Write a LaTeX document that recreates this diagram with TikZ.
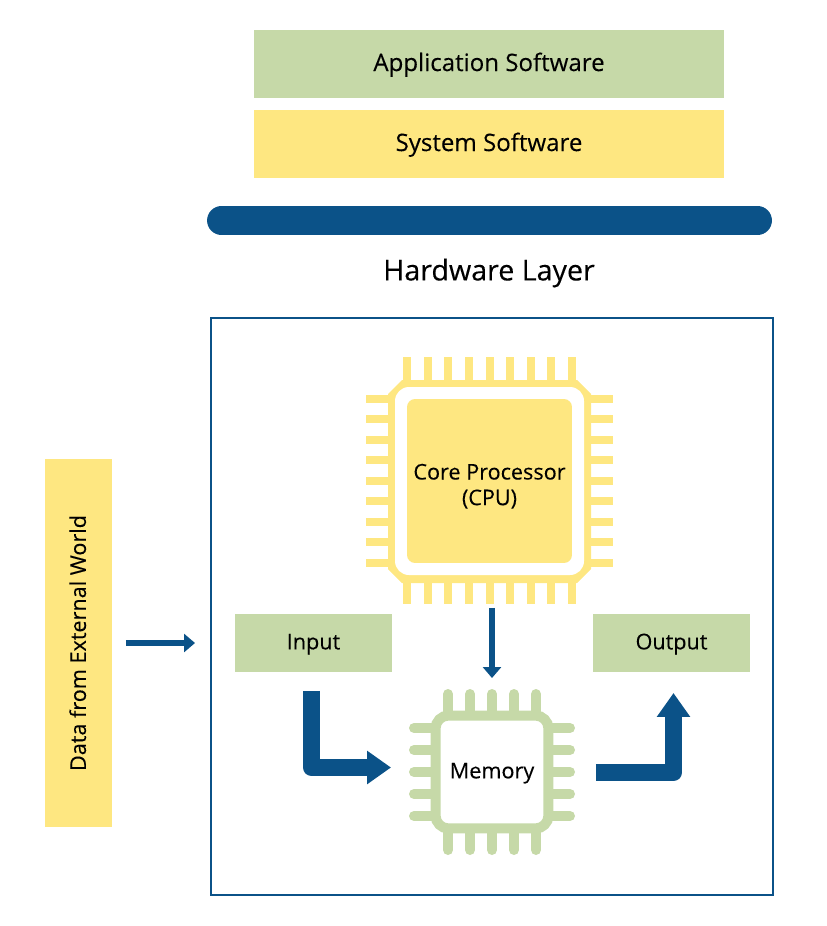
\documentclass[tikz,border=0pt]{standalone}
\usepackage{fontspec}
\setmainfont[FakeBold=0.2]{Open Sans}
\usetikzlibrary{arrows.meta}
\definecolor{leafgreen}{HTML}{C6D9A8}
\definecolor{sunyellow}{HTML}{FEE781}
\definecolor{deepblue}{HTML}{0B5288}
\tikzset{
  block/.style={inner sep=0pt,outer sep=0pt,align=center,text height=7.2pt,text depth=0pt,font=\fontsize{12.3pt}{14.6pt}\selectfont},
  greenblock/.style={block,fill=leafgreen},
  yellowblock/.style={block,fill=sunyellow},
  cpupin/.style={draw=sunyellow,line width=0.16cm},
  mempin/.style={draw=leafgreen,line width=0.2cm,line cap=round},
  thinarrow/.style={draw=deepblue,line width=0.11cm,-{Triangle[width=0.36cm,length=0.22cm]}},
  thickarrow/.style={draw=deepblue,line width=0.34cm,line join=round,-{Triangle[width=0.64cm,length=0.48cm]}}
}
\begin{document}
\begin{tikzpicture}[x=0.02cm,y=-0.02cm]
  \useasboundingbox (0,0) rectangle (826,926);
  \node[greenblock,minimum width=9.4cm,minimum height=1.36cm,text height=8pt,font=\fontsize{13.7pt}{16pt}\selectfont] (app) at (489,64) {Application Software};
  \node[yellowblock,minimum width=9.4cm,minimum height=1.36cm,text height=8pt,font=\fontsize{13.7pt}{16pt}\selectfont] (sys) at (489,144) {System Software};
  \node[fill=deepblue,rounded corners=0.29cm,minimum width=11.3cm,minimum height=0.58cm,inner sep=0pt] (bar) at (489.5,220.5) {};
  \node[inner sep=0pt,font=\fontsize{16.3pt}{19pt}\selectfont] (hwlabel) at (489,273) {Hardware Layer};
  \node[draw=deepblue,line width=0.03cm,minimum width=11.24cm,minimum height=11.54cm,inner sep=0pt] (frame) at (492,606.5) {};
  \node[yellowblock,minimum width=7.36cm,minimum height=1.34cm,rotate=90,text height=8.4pt] (data) at (78.5,643) {Data from External World};
  \node[greenblock,minimum width=3.14cm,minimum height=1.16cm] (input) at (313.5,643) {Input};
  \node[greenblock,minimum width=3.14cm,minimum height=1.16cm] (output) at (671.5,643) {Output};
  \foreach \i in {0,...,8} {
    \draw[cpupin] (407.3+20.55*\i,357) -- (407.3+20.55*\i,604);
    \draw[cpupin] (366,398.7+20.5*\i) -- (613,398.7+20.5*\i);
  }
  \fill[sunyellow] (402,380) -- (577,380) -- (591,394) -- (591,569) -- (577,583) -- (402,583) -- (388,569) -- (388,394) -- cycle;
  \fill[white,rounded corners=0.28cm] (395,387) rectangle (584,575);
  \node[yellowblock,rounded corners=0.16cm,minimum width=3.3cm,minimum height=3.28cm,text height=27.5pt] (cpu) at (489.5,481) {Core Processor\\(CPU)};
  \foreach \i in {0,...,4} {
    \draw[mempin] (448+22*\i,694) -- (448+22*\i,850);
    \draw[mempin] (414,728+22*\i) -- (570,728+22*\i);
  }
  \node[block,fill=white,draw=leafgreen,line width=0.2cm,rounded corners=0.26cm,minimum width=2.26cm,minimum height=2.26cm] (mem) at (492,772) {Memory};
  \draw[thinarrow,shorten <=0.28cm,shorten >=0.8cm] (data) -- (input);
  \draw[thinarrow,shorten <=0.9cm,shorten >=0.75cm] (mem |- cpu.south) -- (mem.north);
  \coordinate (inbend) at (311.5,767.5);
  \coordinate (outbend) at (673.5,772.5);
  \draw[thickarrow,shorten <=0.38cm,shorten >=0.89cm] (inbend |- input.south) -- (inbend) -- (mem.west |- inbend);
  \draw[thickarrow,shorten <=0.95cm,shorten >=0.42cm] (mem.east |- outbend) -- (outbend) -- (outbend |- output.south);
\end{tikzpicture}
\end{document}
